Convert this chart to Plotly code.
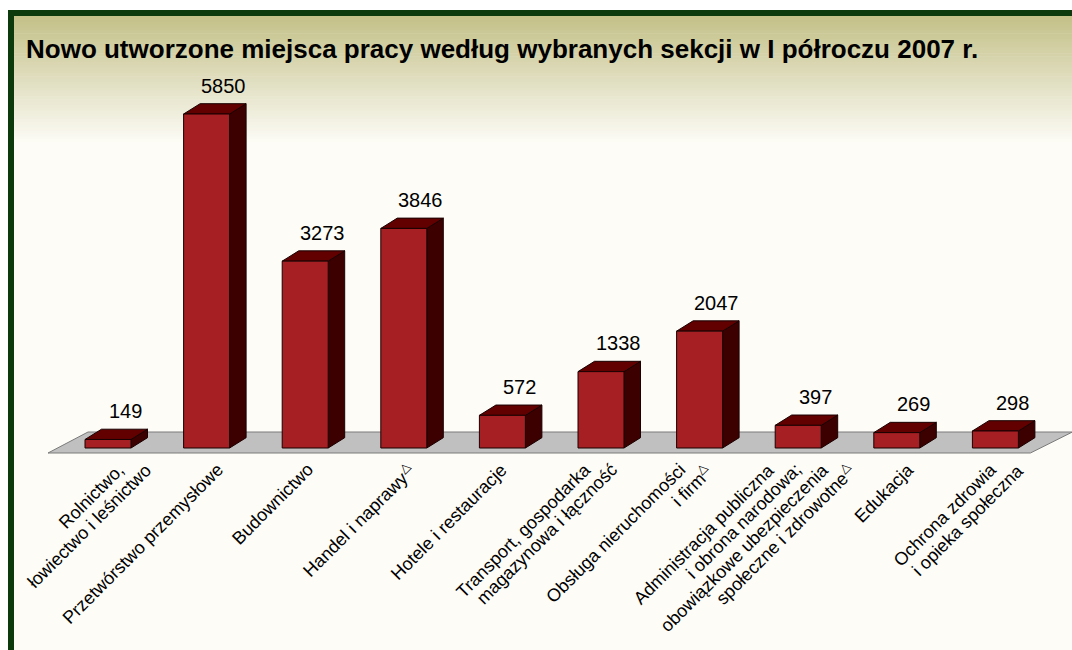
import plotly.graph_objects as go

# ---------------- data ----------------
title_text = "Nowo utworzone miejsca pracy według wybranych sekcji w I półroczu 2007 r."
categories = [
    "Rolnictwo,<br>łowiectwo i leśnictwo",
    "Przetwórstwo przemysłowe",
    "Budownictwo",
    "Handel i naprawy<sup>△</sup>",
    "Hotele i restauracje",
    "Transport, gospodarka<br>magazynowa i łączność",
    "Obsługa nieruchomości<br>i firm<sup>△</sup>",
    "Administracja publiczna<br>i obrona narodowa;<br>obowiązkowe ubezpieczenia<br>społeczne i zdrowotne<sup>△</sup>",
    "Edukacja",
    "Ochrona zdrowia<br>i opieka społeczna",
]
values = [149, 5850, 3273, 3846, 572, 1338, 2047, 397, 269, 298]

# layout nudges for the rotated category labels (pixels, relative to bar centre)
label_end_dx = [15, 15, 7, 10, 3, -12, -15, -25, 16, 0]

# ---------------- geometry (pixel-based scale) ----------------
W, H = 1072, 650
px_per_cat = 98.6          # horizontal pixels per category
first_center_px = 108      # pixel x of first category centre
k = 334 / 5850             # vertical pixels per unit value
zero_px = 448              # pixel y of value 0

xmin = -first_center_px / px_per_cat
xmax = xmin + W / px_per_cat
ymax = zero_px / k
ymin = ymax - H / k

bar_w = 46 / px_per_cat
dx = 16.5 / px_per_cat
dy = 10.3 / k

FRONT = "#a61f23"
TOP = "#620000"
SIDE = "#3d0000"
EDGE = "#1a0000"
FONT = "Liberation Sans, Arial, sans-serif"

fig = go.Figure()

# floor
n = len(categories)
fx0, fx1 = -60 / px_per_cat, (n - 1) + 35 / px_per_cat
fbx0, fbx1 = -20 / px_per_cat, (n - 1) + 77 / px_per_cat
fy_front, fy_back = -5 / k, 16 / k
fig.add_trace(go.Scatter(
    x=[fx0, fx1, fbx1, fbx0, fx0],
    y=[fy_front, fy_front, fy_back, fy_back, fy_front],
    mode="lines", fill="toself", fillcolor="#c0c0c0",
    line=dict(color="#7a7a7a", width=1), hoverinfo="skip", showlegend=False))

side_x, side_y, top_x, top_y, fr_x, fr_y = [], [], [], [], [], []
for i, v in enumerate(values):
    l, r = i - bar_w / 2, i + bar_w / 2
    side_x += [r, r + dx, r + dx, r, r, None]
    side_y += [0, dy, v + dy, v, 0, None]
    top_x += [l, r, r + dx, l + dx, l, None]
    top_y += [v, v, v + dy, v + dy, v, None]
    fr_x += [l, r, r, l, l, None]
    fr_y += [0, 0, v, v, 0, None]

for xs, ys, col in [(side_x, side_y, SIDE), (top_x, top_y, TOP), (fr_x, fr_y, FRONT)]:
    fig.add_trace(go.Scatter(x=xs, y=ys, mode="lines", fill="toself", fillcolor=col,
                             line=dict(color=EDGE, width=1), hoverinfo="skip",
                             showlegend=False))

# value labels
for i, v in enumerate(values):
    fig.add_annotation(x=i + 17 / px_per_cat, y=v + dy, text=str(v), showarrow=False,
                       xanchor="center", yanchor="bottom", yshift=5,
                       font=dict(family=FONT, size=20, color="#000000"))

# category labels: one annotation per line, line ends aligned on a horizontal
line_step_px = 27
for i, c in enumerate(categories):
    for j, line in enumerate(c.split("<br>")):
        fig.add_annotation(x=i + (label_end_dx[i] + 8 + j * line_step_px) / px_per_cat,
                           y=(zero_px - 457) / k, text=line, showarrow=False,
                           xanchor="right", yanchor="top", textangle=-45,
                           font=dict(family=FONT, size=18, color="#000000"))

# background: content area + gradient band + border
shapes = []
shapes.append(dict(type="rect", xref="paper", yref="paper", x0=14 / W, x1=1.02,
                   y0=-0.02, y1=1 - 16 / H, fillcolor="#fdfcf7", line=dict(width=0),
                   layer="below"))
c0 = (196, 193, 137)
c1 = (253, 252, 247)
g_top, g_bot = 16, 145
steps = 45
for s in range(steps):
    t = s / (steps - 1)
    col = tuple(round(c0[j] + (c1[j] - c0[j]) * t) for j in range(3))
    y_a = g_top + (g_bot - g_top) * s / steps
    y_b = g_top + (g_bot - g_top) * (s + 1) / steps + 0.6
    shapes.append(dict(type="rect", xref="paper", yref="paper", x0=14 / W, x1=1.02,
                       y0=1 - y_b / H, y1=1 - y_a / H,
                       fillcolor="rgb(%d,%d,%d)" % col, line=dict(width=0), layer="below"))
shapes.append(dict(type="rect", xref="paper", yref="paper", x0=11 / W, x1=1.05,
                   y0=-0.05, y1=1 - 13 / H, line=dict(color="#0c3a0c", width=6),
                   fillcolor="rgba(0,0,0,0)", layer="above"))

fig.update_layout(
    width=W, height=H,
    margin=dict(l=0, r=0, t=0, b=0),
    paper_bgcolor="#ffffff", plot_bgcolor="rgba(0,0,0,0)",
    shapes=shapes,
    xaxis=dict(range=[xmin, xmax], visible=False, fixedrange=True),
    yaxis=dict(range=[ymin, ymax], visible=False, fixedrange=True),
    showlegend=False,
    title=dict(text="<b>" + title_text + "</b>", x=26 / W, xanchor="left",
               y=1 - 49 / H, yanchor="middle",
               font=dict(family=FONT, size=26, color="#000000")),
)

fig.write_html("out.html", config={"displayModeBar": False},
               post_script="document.body.style.margin='0';document.body.style.overflow='hidden';")
